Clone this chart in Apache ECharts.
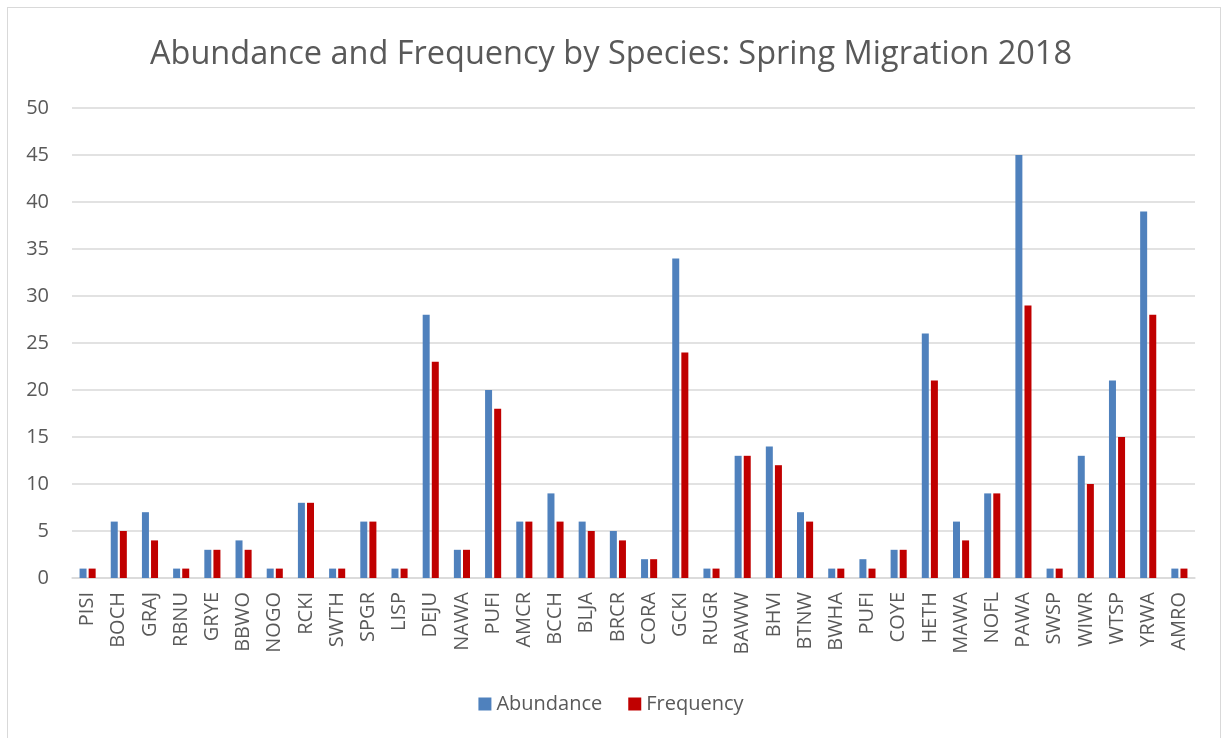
<!DOCTYPE html>
<html><head><meta charset="utf-8">
<script src="https://cdn.jsdelivr.net/npm/echarts@6/dist/echarts.min.js"></script>
<style>html,body{margin:0;padding:0;background:#fff}#c{width:1222px;height:738px}
#frame{position:absolute;left:7px;top:7px;width:1212px;height:740px;border:1px solid #d9d9d9;pointer-events:none}</style>
</head><body><div id="c"></div><div id="frame"></div>
<script>
const categories = ["PISI","BOCH","GRAJ","RBNU","GRYE","BBWO","NOGO","RCKI","SWTH","SPGR","LISP","DEJU","NAWA","PUFI","AMCR","BCCH","BLJA","BRCR","CORA","GCKI","RUGR","BAWW","BHVI","BTNW","BWHA","PUFI","COYE","HETH","MAWA","NOFL","PAWA","SWSP","WIWR","WTSP","YRWA","AMRO"];
const abundance = [1,6,7,1,3,4,1,8,1,6,1,28,3,20,6,9,6,5,2,34,1,13,14,7,1,2,3,26,6,9,45,1,13,21,39,1];
const frequency = [1,5,4,1,3,3,1,8,1,6,1,23,3,18,6,6,5,4,2,24,1,13,12,6,1,1,3,21,4,9,29,1,10,15,28,1];
const titleText = "Abundance and Frequency by Species: Spring Migration 2018";
const seriesNames = ["Abundance","Frequency"];

const font = "'Open Sans', 'Noto Sans', sans-serif";
const chart = echarts.init(document.getElementById('c'));
chart.setOption({
  animation:false,
  title:{text:titleText,left:'center',top:33,textStyle:{fontFamily:font,fontSize:32.5,fontWeight:'normal',color:'#595959'}},
  legend:{bottom:19,left:'center',itemWidth:13,itemHeight:13,itemGap:26,icon:'rect',
    textStyle:{fontFamily:font,fontSize:20,color:'#595959'},data:seriesNames},
  grid:{left:72,right:27,top:108,bottom:160,containLabel:false},
  xAxis:{type:'category',data:categories,
    axisLine:{lineStyle:{color:'#d9d9d9',width:1.5}},axisTick:{show:false},
    axisLabel:{rotate:90,interval:0,margin:14,fontFamily:font,fontSize:20,color:'#595959'}},
  yAxis:{type:'value',min:0,max:50,interval:5,
    axisLine:{show:false},axisTick:{show:false},
    splitLine:{lineStyle:{color:'#d9d9d9',width:1.5}},
    axisLabel:{margin:23,fontFamily:font,fontSize:20,color:'#595959'}},
  series:[
    {name:seriesNames[0],type:'bar',data:abundance,barWidth:7,barGap:'30%',itemStyle:{color:'#4F81BD'}},
    {name:seriesNames[1],type:'bar',data:frequency,barWidth:7,itemStyle:{color:'#C00000'}}
  ]
});
</script></body></html>
